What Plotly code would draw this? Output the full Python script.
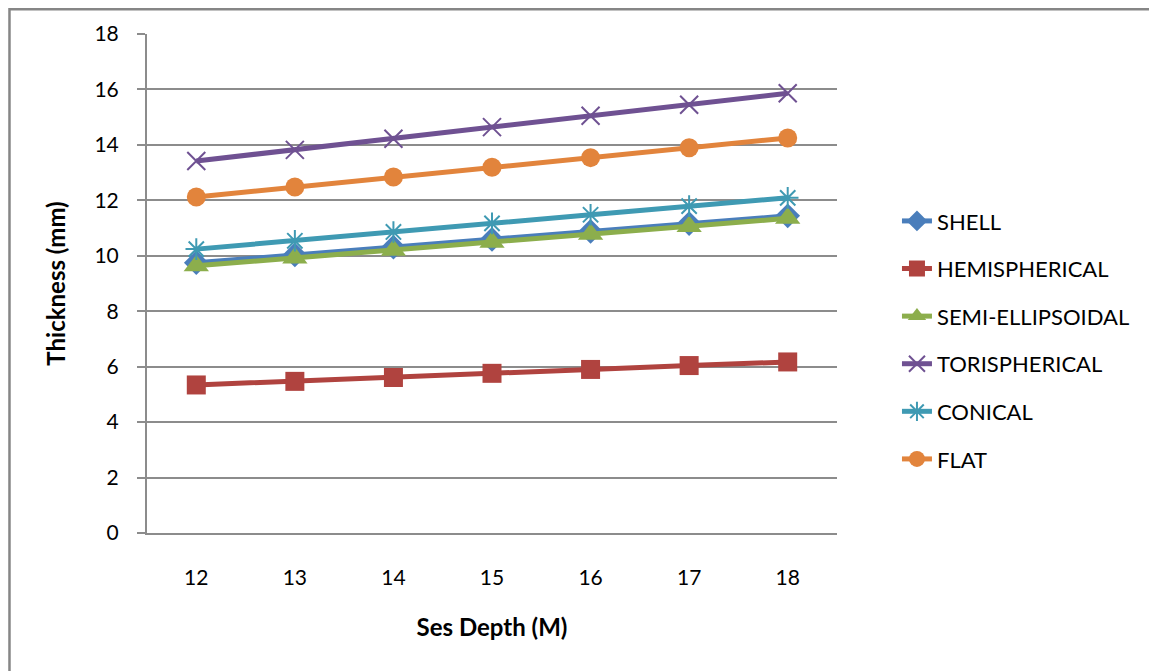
import plotly.graph_objects as go

depth = [12, 13, 14, 15, 16, 17, 18]
shell = [9.75, 10.03, 10.31, 10.59, 10.88, 11.16, 11.44]
hemispherical = [5.34, 5.47, 5.61, 5.76, 5.90, 6.04, 6.17]
semi_ellipsoidal = [9.64, 9.92, 10.20, 10.49, 10.78, 11.06, 11.35]
torispherical = [13.42, 13.82, 14.22, 14.64, 15.05, 15.45, 15.86]
conical = [10.24, 10.54, 10.86, 11.17, 11.48, 11.79, 12.09]
flat = [12.12, 12.48, 12.84, 13.19, 13.54, 13.90, 14.25]

series = [
    ("SHELL", shell, "#4A7EBB", "diamond", 19),
    ("HEMISPHERICAL", hemispherical, "#B0433F", "square", 19),
    ("SEMI-ELLIPSOIDAL", semi_ellipsoidal, "#8CAE4C", "triangle-up", 22),
    ("TORISPHERICAL", torispherical, "#6F5192", "x-thin-open", 18),
    ("CONICAL", conical, "#3F9AB3", "asterisk-open", 18),
    ("FLAT", flat, "#E2843C", "circle", 19),
]

fig = go.Figure()
for name, vals, color, sym, size in series:
    thin = sym in ("x-thin-open", "asterisk-open")
    fig.add_trace(go.Scatter(
        x=depth, y=vals, name=name, mode="lines+markers",
        legendgroup=name,
        line=dict(color=color, width=5),
        marker=dict(symbol=sym, size=size, color=color,
                    line=dict(color=color, width=2 if thin else 0)),
    ))

# page has an 8px body margin; work in figure coordinates
OFF = 8
W, H = 1157 - OFF, 671 - OFF
L, R, T, B = 146.6 - OFF, 837 - OFF, 33.7 - OFF, 533 - OFF
pw, ph = R - L, B - T

def px(x):
    return (x - L) / pw

def py(y):
    return (B - y) / ph

fig.update_layout(
    width=W, height=H,
    margin=dict(l=L, r=W - R, t=T, b=H - B, pad=0),
    paper_bgcolor="white", plot_bgcolor="white",
    font=dict(family="Lato, 'Open Sans', sans-serif", size=21, color="black"),
    showlegend=True,
    legend=dict(x=px(897 - OFF), y=py(340 - OFF), xanchor="left", yanchor="middle",
                tracegroupgap=16, font=dict(size=22),
                bgcolor="rgba(0,0,0,0)"),
    xaxis=dict(range=[11.5, 18.5], tickmode="array", tickvals=depth,
               ticktext=[str(d) for d in depth],
               showgrid=False, zeroline=False, showline=True,
               linecolor="#8C8C8C", linewidth=2, ticks="",
               ticklabelstandoff=25,
               title=dict(text="<b>Ses Depth (M)</b>", standoff=31,
                          font=dict(size=24))),
    yaxis=dict(range=[0, 18], dtick=2, showgrid=True, gridcolor="#8C8C8C",
               gridwidth=2, zeroline=False, showline=True,
               linecolor="#8C8C8C", linewidth=2, ticks="outside",
               ticklen=8, tickcolor="#8C8C8C", tickwidth=2,
               ticklabelstandoff=14,
               title=dict(text="<b>Thickness (mm)</b>", standoff=22,
                          font=dict(size=24))),
    shapes=[dict(type="rect", xref="paper", yref="paper",
                 x0=px(1), x1=px(W + 10), y0=py(H + 10), y1=py(1),
                 line=dict(color="#868686", width=2.5), layer="below")],
)

fig.write_html("out.html")
